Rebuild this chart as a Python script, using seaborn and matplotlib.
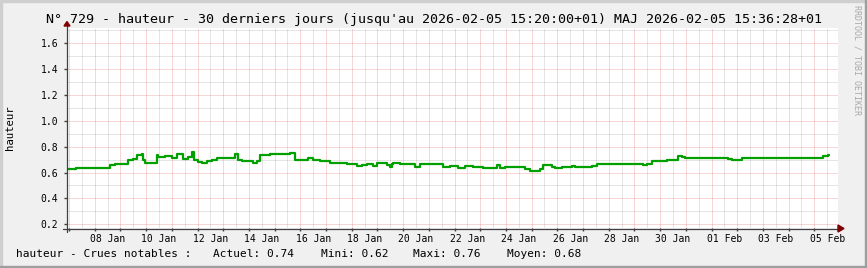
import numpy as np
import pandas as pd
import matplotlib
matplotlib.use("Agg")
import matplotlib.pyplot as plt
import matplotlib.dates as mdates
from matplotlib.lines import Line2D
from matplotlib.patches import Polygon, Rectangle
import seaborn as sns

# ---------------- data ----------------
start = pd.Timestamp("2026-01-06 22:07")
end = start + pd.Timedelta(days=30)

hours = [0, 8.4, 40.2, 44.8, 57.3, 62, 65, 69.7, 71.3, 72.9, 83.7, 85.3, 91.5, 97.8,
         102.4, 108.7, 113.3, 116.4, 118.6, 122.7, 125.8, 130.4, 135.1, 139.8, 156.9,
         160, 163.1, 174, 177.1, 180.3, 189.6, 208.3, 213, 217.6, 225.4, 230, 236.3,
         245.6, 261.2, 270.5, 275.2, 279.9, 286.1, 289.2, 298.6, 301.7, 303.5, 304.8,
         311, 325, 329.7, 351.5, 357.7, 365.5, 371.7, 379.5, 388.8, 401.3, 404.4, 409,
         427.7, 432.4, 441.7, 444.8, 452.7, 455.8, 462, 471.3, 474.4, 490, 494.6, 508.7,
         511.8, 516.4, 538.2, 541.3, 546, 560, 566.2, 570.9, 574, 577.1, 583.3, 588,
         602, 612.9, 617.6, 620.8, 630.1, 642.6, 662.8, 667.5, 681.5, 706.4, 711.1, 712]
levels = [0.63, 0.635, 0.655, 0.665, 0.70, 0.707, 0.733, 0.74, 0.70, 0.676, 0.735, 0.72,
          0.73, 0.715, 0.74, 0.707, 0.72, 0.76, 0.70, 0.685, 0.676, 0.686, 0.697, 0.71,
          0.743, 0.697, 0.69, 0.676, 0.69, 0.735, 0.74, 0.753, 0.70, 0.697, 0.71, 0.697,
          0.69, 0.676, 0.67, 0.65, 0.66, 0.67, 0.65, 0.673, 0.66, 0.64, 0.665, 0.673,
          0.67, 0.64, 0.665, 0.645, 0.65, 0.635, 0.65, 0.64, 0.632, 0.66, 0.635, 0.645,
          0.625, 0.615, 0.625, 0.66, 0.64, 0.632, 0.64, 0.65, 0.64, 0.65, 0.67, 0.665,
          0.67, 0.665, 0.66, 0.67, 0.69, 0.697, 0.70, 0.728, 0.72, 0.716, 0.71, 0.716,
          0.71, 0.716, 0.705, 0.697, 0.716, 0.71, 0.716, 0.71, 0.716, 0.73, 0.738, 0.738]

x_label_dates = pd.date_range("2026-01-08 12:00", periods=15, freq="2D")
x_labels = ["08 Jan", "10 Jan", "12 Jan", "14 Jan", "16 Jan", "18 Jan", "20 Jan", "22 Jan",
            "24 Jan", "26 Jan", "28 Jan", "30 Jan", "01 Feb", "03 Feb", "05 Feb"]
y_ticks = [0.2, 0.4, 0.6, 0.8, 1.0, 1.2, 1.4, 1.6]
y_labels = ["0.2", "0.4", "0.6", "0.8", "1.0", "1.2", "1.4", "1.6"]
y_minor = [0.3, 0.5, 0.7, 0.9, 1.1, 1.3, 1.5, 1.7]

title = "N° 729 - hauteur - 30 derniers jours (jusqu'au 2026-02-05 15:20:00+01) MAJ 2026-02-05 15:36:28+01"
legend_parts = ["hauteur - Crues notables :", "Actuel: 0.74", "Mini: 0.62", "Maxi: 0.76", "Moyen: 0.68"]

# ---------------- style ----------------
sns.set_theme(style="white")
plt.rcParams["font.family"] = ["DejaVu Sans Mono", "DejaVu Sans"]

W, H = 867, 268
BACK, SHADEA, SHADEB = "#F0F0F0", "#CFCFCF", "#9E9E9E"
GRID, MGRID, AXIS, ARROW = "#8F8F8F", "#DE5050", "#404040", "#7F0000"

def fx(x):
    return x / W

def fy(y):
    return 1 - y / H

fig = plt.figure(figsize=(W / 100, H / 100), dpi=100, facecolor=BACK)

# 3D frame
fig.patches.append(Rectangle((0, fy(2)), 1, 2 / H, transform=fig.transFigure, color=SHADEA, zorder=0))
fig.patches.append(Rectangle((0, 0), 2 / W, 1, transform=fig.transFigure, color=SHADEA, zorder=0))
fig.patches.append(Rectangle((0, 0), 1, 2 / H, transform=fig.transFigure, color=SHADEB, zorder=0))
fig.patches.append(Rectangle((fx(W - 2), 0), 2 / W, 1, transform=fig.transFigure, color=SHADEB, zorder=0))

L, R, T, B = 67, 838, 28, 228
ax = fig.add_axes([fx(L), fy(B), (R - L) / W, (B - T) / H])
ax.set_facecolor("white")

df = pd.DataFrame({"time": start + pd.to_timedelta(hours, unit="h"), "level": levels})
sns.lineplot(data=df, x="time", y="level", drawstyle="steps-post", color="#00A000",
             linewidth=1.6, estimator=None, sort=False, ax=ax, zorder=5)

pxv = 25.85 / 0.2
ax.set_ylim(0.8 - (B - 146.7) / pxv, 0.8 + (146.7 - T) / pxv)
ax.set_xlim(start, end)
ax.set_xlabel("")
ax.set_ylabel("")

# x ticks: major = midnights (red grid), minor = noons (grey grid, labels on even days)
midnights = pd.date_range("2026-01-07", "2026-02-05", freq="D")
noons = pd.date_range("2026-01-07 12:00", "2026-02-05 12:00", freq="D")
label_map = dict(zip(x_label_dates, x_labels))
ax.set_xticks(mdates.date2num(midnights))
ax.set_xticklabels([])
ax.set_xticks(mdates.date2num(noons), minor=True)
ax.set_xticklabels([label_map.get(d, "") for d in noons], minor=True)

ax.set_yticks(y_ticks)
ax.set_yticklabels(y_labels)
ax.set_yticks(y_minor, minor=True)

ax.tick_params(axis="x", which="major", length=2, width=1, color=AXIS, bottom=True, labelbottom=False)
ax.tick_params(axis="x", which="minor", length=0, labelsize=7, pad=4.2, labelcolor="black", bottom=True)
ax.tick_params(axis="y", which="major", length=2, width=1, color=AXIS, left=True, labelsize=7, pad=4.3,
               labelcolor="black")
ax.tick_params(axis="y", which="minor", length=0, left=True)

ax.grid(which="major", color=MGRID, alpha=0.46, linestyle=(0, (1, 1)), linewidth=0.72)
ax.grid(which="minor", color=GRID, alpha=0.46, linestyle=(0, (1, 1)), linewidth=0.72)
ax.set_axisbelow(True)
for s in ax.spines.values():
    s.set_visible(False)

# axes lines with arrows
fig.lines.append(Line2D([fx(63), fx(839)], [fy(B + 0.5), fy(B + 0.5)], transform=fig.transFigure,
                        color=AXIS, linewidth=0.9, zorder=10))
fig.lines.append(Line2D([fx(L), fx(L)], [fy(232), fy(25)], transform=fig.transFigure,
                        color=AXIS, linewidth=0.9, zorder=10))
fig.patches.append(Polygon([(fx(838), fy(225)), (fx(838), fy(232)), (fx(844), fy(228.5))],
                           closed=True, transform=fig.transFigure, color=ARROW, zorder=11))
fig.patches.append(Polygon([(fx(64), fy(26)), (fx(70), fy(26)), (fx(67), fy(21.5))],
                           closed=True, transform=fig.transFigure, color=ARROW, zorder=11))

# texts
fig.text(0.5, fy(19), title, ha="center", va="center", fontsize=9.6, color="black")
fig.text(fx(10), fy(128), "hauteur", rotation=90, ha="center", va="center", fontsize=7.7, color="black")
fig.text(fx(857.5), fy(60), "RRDTOOL / TOBI OETIKER", rotation=270, ha="center", va="center",
         fontsize=6, color="#A8A8A8")
legend_x = [16.5, 213.3, 320.7, 413.3, 506.7]
for xpos, txt in zip(legend_x, legend_parts):
    fig.text(fx(xpos), fy(254), txt, ha="left", va="center", fontsize=8, color="black")

fig.savefig("out.png", dpi=100, facecolor=BACK)
